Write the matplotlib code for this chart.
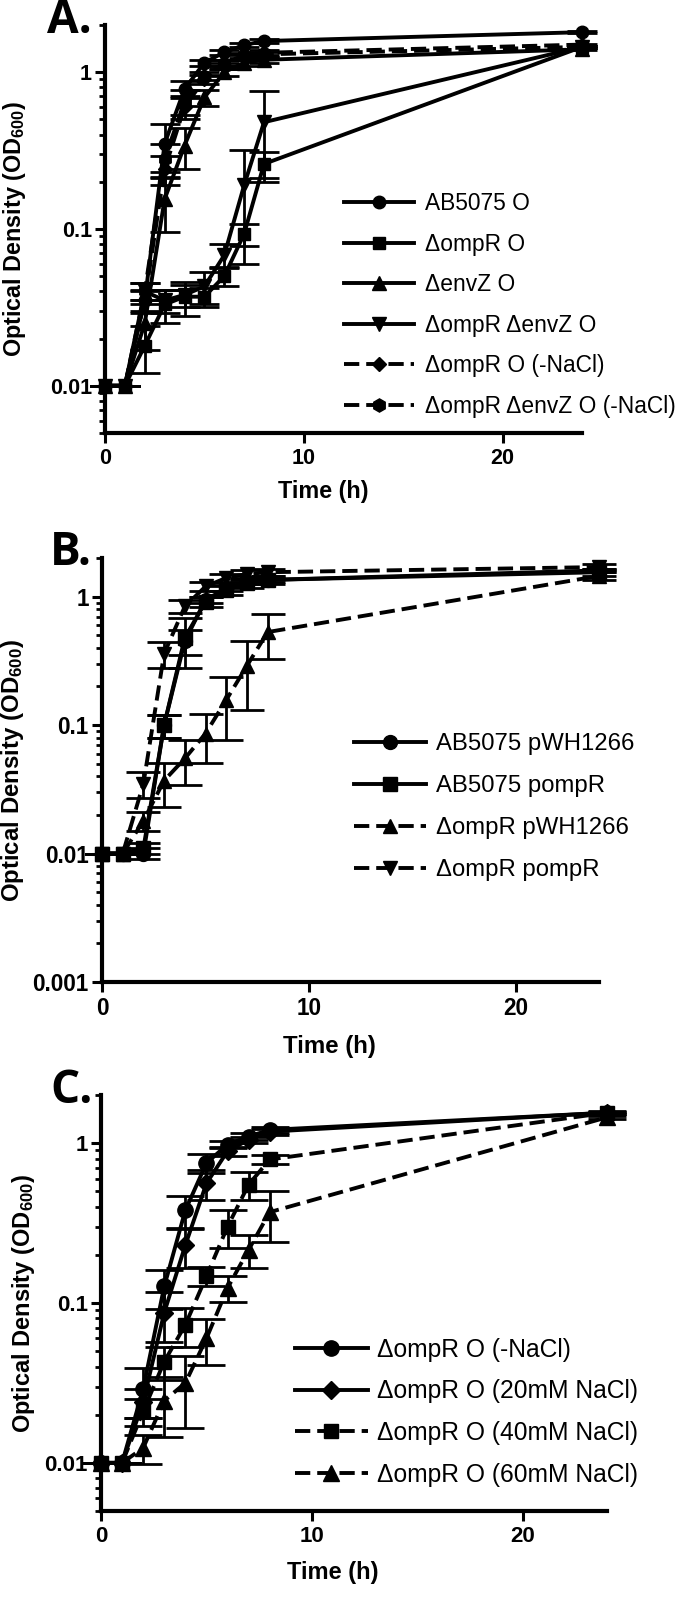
import matplotlib
matplotlib.use("Agg")
import matplotlib.pyplot as plt
from matplotlib.ticker import LogLocator, NullFormatter
import numpy as np

plt.rcParams['font.family'] = ['Liberation Sans', 'DejaVu Sans']
plt.rcParams['mathtext.fontset'] = 'custom'
plt.rcParams['mathtext.rm'] = 'Liberation Sans:bold'
plt.rcParams['mathtext.bf'] = 'Liberation Sans:bold'
plt.rcParams['mathtext.default'] = 'rm'
plt.rcParams['lines.scale_dashes'] = False

# ---------------- data ----------------
time_h = [0, 1, 2, 3, 4, 5, 6, 7, 8, 24]

# Panel A
a_labels = ["AB5075 O", "ΔompR O", "ΔenvZ O", "ΔompR ΔenvZ O",
            "ΔompR O (-NaCl)", "ΔompR ΔenvZ O (-NaCl)"]
a_wt = [0.01, 0.01, 0.035, 0.35, 0.78, 1.15, 1.34, 1.49, 1.58, 1.80]
a_wt_sd = [0, 0, 0.006, 0.12, 0.10, 0.05, 0.05, 0.04, 0.04, 0.02]
a_ompR = [0.01, 0.01, 0.018, 0.033, 0.037, 0.037, 0.050, 0.093, 0.26, 1.45]
a_ompR_sd = [0, 0, 0.006, 0.008, 0.009, 0.005, 0.007, 0.015, 0.05, 0.02]
a_envZ = [0.01, 0.01, 0.025, 0.155, 0.34, 0.69, 1.00, 1.15, 1.20, 1.40]
a_envZ_sd = [0, 0, 0.008, 0.06, 0.10, 0.08, 0.05, 0.05, 0.05, 0.02]
a_ompRenvZ = [0.01, 0.01, 0.040, 0.035, 0.038, 0.043, 0.068, 0.19, 0.48, 1.45]
a_ompRenvZ_sd = [0, 0, 0.005, 0.006, 0.006, 0.010, 0.012, 0.13, 0.28, 0.02]
a_ompR_noNaCl = [0.01, 0.01, 0.035, 0.24, 0.60, 0.90, 1.10, 1.25, 1.30, 1.45]
a_ompR_noNaCl_sd = [0, 0, 0.005, 0.05, 0.10, 0.06, 0.05, 0.05, 0.05, 0.02]
a_ompRenvZ_noNaCl = [0.01, 0.01, 0.040, 0.28, 0.65, 0.95, 1.15, 1.28, 1.33, 1.50]
a_ompRenvZ_noNaCl_sd = [0, 0, 0.005, 0.07, 0.12, 0.06, 0.05, 0.05, 0.05, 0.02]

# Panel B
b_labels = ["AB5075 pWH1266", "AB5075 pompR", "ΔompR pWH1266", "ΔompR pompR"]
b_wt_pWH = [0.01, 0.01, 0.010, 0.10, 0.45, 0.95, 1.15, 1.30, 1.35, 1.60]
b_wt_pWH_sd = [0, 0, 0.001, 0.02, 0.10, 0.05, 0.05, 0.05, 0.05, 0.05]
b_wt_pompR = [0.01, 0.01, 0.011, 0.10, 0.48, 0.91, 1.13, 1.27, 1.35, 1.55]
b_wt_pompR_sd = [0, 0, 0.001, 0.02, 0.20, 0.08, 0.10, 0.10, 0.10, 0.10]
b_ompR_pWH = [0.01, 0.01, 0.018, 0.037, 0.055, 0.086, 0.157, 0.29, 0.53, 1.45]
b_ompR_pWH_sd = [0, 0, 0.003, 0.014, 0.021, 0.035, 0.08, 0.16, 0.20, 0.10]
b_ompR_pompR = [0.01, 0.01, 0.035, 0.36, 0.84, 1.20, 1.40, 1.50, 1.55, 1.70]
b_ompR_pompR_sd = [0, 0, 0.008, 0.08, 0.10, 0.10, 0.10, 0.10, 0.10, 0.10]

# Panel C
c_labels = ["ΔompR O (-NaCl)", "ΔompR O (20mM NaCl)", "ΔompR O (40mM NaCl)",
            "ΔompR O (60mM NaCl)"]
c_noNaCl = [0.01, 0.01, 0.029, 0.127, 0.38, 0.75, 0.98, 1.10, 1.21, 1.55]
c_noNaCl_sd = [0, 0, 0.010, 0.035, 0.09, 0.10, 0.05, 0.05, 0.05, 0.02]
c_20mM = [0.01, 0.01, 0.024, 0.087, 0.23, 0.56, 0.89, 1.05, 1.18, 1.55]
c_20mM_sd = [0, 0, 0.005, 0.03, 0.065, 0.12, 0.06, 0.05, 0.05, 0.02]
c_40mM = [0.01, 0.01, 0.021, 0.043, 0.073, 0.147, 0.30, 0.55, 0.79, 1.55]
c_40mM_sd = [0, 0, 0.004, 0.010, 0.020, 0.020, 0.08, 0.11, 0.05, 0.03]
c_60mM = [0.01, 0.01, 0.0124, 0.0245, 0.0316, 0.060, 0.124, 0.215, 0.37, 1.45]
c_60mM_sd = [0, 0, 0.0025, 0.010, 0.015, 0.019, 0.023, 0.05, 0.13, 0.03]

x_ticks = [0, 10, 20]

# ---------------- styling ----------------
W, H = 680, 1604
SOLID = '-'
DASH = (0, (11, 5))
LW = 2.8


def fmt_y(v):
    return ('%.3f' % v).rstrip('0').rstrip('.')


def style_axes(ax, ymin, ymax, yticks, tick_fs, label_fs):
    ax.set_yscale('log')
    ax.set_xlim(0, 24)
    ax.set_ylim(ymin, ymax)
    for s in ['top', 'right']:
        ax.spines[s].set_visible(False)
    for s in ['left', 'bottom']:
        ax.spines[s].set_linewidth(3)
    ax.set_xticks(x_ticks, labels=[str(v) for v in x_ticks],
                  fontweight='bold', fontsize=tick_fs)
    ax.set_yticks(yticks, labels=[fmt_y(v) for v in yticks],
                  fontweight='bold', fontsize=tick_fs)
    ax.yaxis.set_minor_locator(LogLocator(base=10, subs=np.arange(2, 10)))
    ax.yaxis.set_minor_formatter(NullFormatter())
    ax.tick_params(axis='both', which='major', direction='out', length=7,
                   width=2.2, pad=2.5)
    ax.tick_params(axis='y', which='minor', direction='out', length=4,
                   width=2.0)
    ax.tick_params(axis='x', which='major', pad=4)
    ax.set_xlabel('Time (h)', fontsize=label_fs, fontweight='bold')
    ax.set_ylabel('Optical Density (OD$_{600}$)', fontsize=label_fs,
                  fontweight='bold')


def draw_series(ax, y, sd, marker, ls, ms, cap, label):
    ax.errorbar(time_h, y, yerr=sd, fmt='none', ecolor='black',
                elinewidth=2.0, capsize=cap, capthick=2.0, clip_on=False,
                zorder=2)
    ax.plot(time_h, y, color='black', linestyle=ls, linewidth=LW,
            marker=marker, markersize=ms, markerfacecolor='black',
            markeredgecolor='black', clip_on=False, label=label, zorder=3)


def panel_letter(fig, x_px, y_px, letter):
    fig.text(x_px / W, 1 - y_px / H, letter, fontsize=33,
             fontweight='bold', family=['Open Sans', 'DejaVu Sans'],
             ha='left', va='baseline')


def place_legend(fig, ax, fs, hlen, first_row, last_row, handle_left,
                 text_left):
    """Legend placed so that its handle rows / text match target pixels
    (measured from the top-left of the figure)."""
    n = len(ax.get_legend_handles_labels()[1])
    fs_px = fs * 100 / 72
    target_pitch = (last_row - first_row) / (n - 1)
    ls = 0.8
    pad = (text_left - handle_left) / fs_px - hlen
    anchor = [handle_left / W, 1 - (first_row - 12) / H]
    leg = None
    for _ in range(3):
        if leg is not None:
            leg.remove()
        leg = ax.legend(loc='upper left', bbox_to_anchor=tuple(anchor),
                        bbox_transform=fig.transFigure, frameon=False,
                        fontsize=fs, handlelength=hlen, handletextpad=pad,
                        labelspacing=ls, borderpad=0, borderaxespad=0)
        fig.canvas.draw()
        r = fig.canvas.get_renderer()
        hs = leg.legend_handles
        rows = []
        for h in hs:
            e = h.get_window_extent(r)
            rows.append(H - (e.y0 + e.y1) / 2)
        pitch = (rows[-1] - rows[0]) / (n - 1)
        ls = ls + (target_pitch - pitch) / fs_px
        anchor[1] -= (first_row - rows[0]) / H
        t0 = leg.get_texts()[0].get_window_extent(r)
        line0 = hs[0].get_window_extent(r)
        anchor[0] += (handle_left - line0.x0) / W
        pad = pad + (text_left - t0.x0 - (handle_left - line0.x0)) / fs_px
    return leg


fig = plt.figure(figsize=(6.8, 16.04), dpi=100)

# ---- Panel A ----
axA = fig.add_axes([105 / W, 1 - 433 / H, 477 / W, 408 / H])
a_series = [
    (a_wt, a_wt_sd, 'o', SOLID, 9),
    (a_ompR, a_ompR_sd, 's', SOLID, 8.5),
    (a_envZ, a_envZ_sd, '^', SOLID, 9.5),
    (a_ompRenvZ, a_ompRenvZ_sd, 'v', SOLID, 9.5),
    (a_ompR_noNaCl, a_ompR_noNaCl_sd, 'D', DASH, 7.5),
    (a_ompRenvZ_noNaCl, a_ompRenvZ_noNaCl_sd, 'h', DASH, 9.5),
]
for (y, sd, m, ls, ms), lab in zip(a_series, a_labels):
    draw_series(axA, y, sd, m, ls, ms, 11, lab)
style_axes(axA, 0.005, 2.0, [0.01, 0.1, 1], 15.5, 16.8)
axA.xaxis.set_label_coords(0.457, -0.115)
axA.yaxis.set_label_coords(-0.161, 0.5)
panel_letter(fig, 47, 33, 'A.')

# ---- Panel B ----
axB = fig.add_axes([102 / W, 1 - 982 / H, 497 / W, 424 / H])
b_series = [
    (b_wt_pWH, b_wt_pWH_sd, 'o', SOLID, 10),
    (b_wt_pompR, b_wt_pompR_sd, 's', SOLID, 9.5),
    (b_ompR_pWH, b_ompR_pWH_sd, '^', DASH, 10),
    (b_ompR_pompR, b_ompR_pompR_sd, 'v', DASH, 10),
]
for (y, sd, m, ls, ms), lab in zip(b_series, b_labels):
    draw_series(axB, y, sd, m, ls, ms, 12, lab)
style_axes(axB, 0.001, 2.0, [0.001, 0.01, 0.1, 1], 16.3, 17.3)
axB.xaxis.set_label_coords(0.457, -0.125)
axB.yaxis.set_label_coords(-0.153, 0.5)
panel_letter(fig, 50, 565, 'B.')

# ---- Panel C ----
axC = fig.add_axes([101 / W, 1 - 1511 / H, 506 / W, 416 / H])
c_series = [
    (c_noNaCl, c_noNaCl_sd, 'o', SOLID, 11),
    (c_20mM, c_20mM_sd, 'D', SOLID, 9),
    (c_40mM, c_40mM_sd, 's', DASH, 10.5),
    (c_60mM, c_60mM_sd, '^', DASH, 11),
]
for (y, sd, m, ls, ms), lab in zip(c_series, c_labels):
    draw_series(axC, y, sd, m, ls, ms, 14, lab)
style_axes(axC, 0.005, 2.0, [0.01, 0.1, 1], 16.0, 17.0)
axC.xaxis.set_label_coords(0.458, -0.12)
axC.yaxis.set_label_coords(-0.126, 0.5)
panel_letter(fig, 50, 1103, 'C.')

# legends (rows measured from reference handle lines)
place_legend(fig, axA, 16.4, 3.07, 202, 405, 338, 425)
place_legend(fig, axB, 17.2, 3.0, 742, 868, 347, 436)
place_legend(fig, axC, 17.7, 2.97, 1348, 1473, 287, 377)

fig.savefig('out.png', dpi=100)
